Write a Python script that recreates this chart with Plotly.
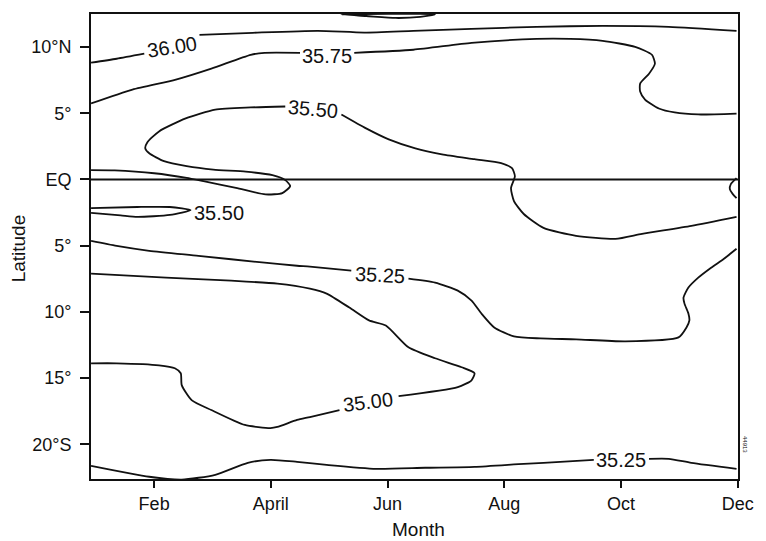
import plotly.graph_objects as go

# ---------------- data (month number, latitude; south negative) ----------------
month_ticks = [2, 4, 6, 8, 10, 12]
month_labels = ["Feb", "April", "Jun", "Aug", "Oct", "Dec"]
lat_ticks = [10, 5, 0, -5, -10, -15, -20]
lat_labels = ["10°N", "5°", "EQ", "5°", "10°", "15°", "20°S"]

# 36.00 isohaline (None = gap for label)
c3600_m = [0.919, 1.358, 1.831, None, 2.777, 3.689, 4.804, 5.60, 6.443, 7.439, 8.554, 9.686, 10.818, 11.98]
c3600_l = [8.82, 9.12, 9.50, None, 10.92, 11.08, 11.23, 11.10, 11.23, 11.38, 11.53, 11.60, 11.53, 11.23]

# 36.00 sliver touching top of the frame
c3600b_m = [5.209, 5.632, 6.139, 6.561, 6.814, 5.209]
c3600b_l = [12.47, 12.35, 12.20, 12.28, 12.47, 12.47]

# 35.75
c3575_m = [0.919, 1.628, 2.372, 2.980, 3.655, 3.892, 4.500, None,
           5.429, 6.443, 7.439, 8.554, 9.128, 9.686, 10.243, 10.530, 10.581, 10.480,
           10.328, 10.328, 10.412, 10.649, 10.919, 11.324, 11.98]
c3575_l = [5.74, 6.79, 7.54, 8.37, 9.42, 9.57, 9.57, None,
           9.57, 9.80, 10.32, 10.62, 10.62, 10.47, 10.02, 9.42, 8.74, 7.99,
           7.24, 6.64, 6.04, 5.36, 5.06, 4.91, 4.98]

# 35.50 (northern / equatorial)
c3550_m = [0.919, 1.324, 2.000, 2.557, 2.845, 3.402, 3.909, 4.196, 4.331, 4.247, 4.027,
           3.571, 3.014, 2.557, 2.169, 1.916, 1.848, 1.882, 2.084, 2.541, 3.047, 3.655, 4.247, None,
           5.209, 5.632, 6.020, 6.476, 6.932, 7.490, 7.946, 8.132, 8.182, 8.115, 8.166,
           8.334, 8.672, 9.230, 9.905, 10.361, 11.206, 11.98]
c3550_l = [0.70, 0.68, 0.47, 0.12, -0.13, -0.63, -1.13, -1.03, -0.50, -0.05, 0.32,
           0.59, 0.74, 1.00, 1.38, 1.98, 2.35, 2.80, 3.63, 4.61, 5.28, 5.44, 5.51, None,
           4.91, 3.86, 3.03, 2.35, 1.90, 1.53, 1.23, 0.85, 0.25, -0.65, -1.63,
           -2.61, -3.66, -4.26, -4.49, -4.11, -3.51, -2.83]

# 35.50 small sliver south of the equator
c3550b_m = [0.919, 1.713, 2.270, 2.625, 2.270, 1.713, 1.426, 0.919]
c3550b_l = [-2.16, -2.08, -2.08, -2.31, -2.68, -2.83, -2.72, -2.53]

# 35.50 small arc at the right edge (December)
c3550c_m = [11.98, 11.882, 11.865, 11.916, 11.98]
c3550c_l = [0.10, -0.35, -0.73, -1.11, -1.41]

# 35.25 (middle)
c3525_m = [0.919, 1.358, 1.916, 2.760, 3.892, 4.449, 4.669, 5.378, None,
           6.358, 6.814, 7.203, 7.439, 7.608, 7.828, 8.166, 8.622, 9.230, 10.074,
           10.986, 11.122, 11.172, 11.155, 11.088, 11.071, 11.155, 11.324, 11.544, 11.764, 11.98]
c3525_l = [-4.64, -5.02, -5.39, -5.77, -6.29, -6.52, -6.59, -6.89, None,
           -7.50, -7.80, -8.40, -9.15, -10.13, -11.18, -11.86, -12.01, -12.08, -12.23,
           -11.93, -11.18, -10.65, -10.13, -9.38, -8.93, -8.17, -7.42, -6.67, -5.99, -5.24]

# 35.00
c3500_m = [0.919, 2.203, 3.318, 4.111, 4.669, 4.956, 5.345, 5.682, 5.970, 6.358, 6.814,
           7.270, 7.490, 7.439, 7.203, 6.189, None,
           5.176, 4.669, 4.449, 4.111, 3.993, 3.554, 2.980, 2.642, 2.473, 2.456, 2.355,
           2.084, 1.358, 0.919]
c3500_l = [-7.12, -7.42, -7.65, -7.87, -8.25, -8.62, -9.68, -10.65, -11.03, -12.68, -13.51,
           -14.19, -14.64, -15.17, -15.69, -16.37, None,
           -17.42, -17.95, -18.17, -18.70, -18.78, -18.55, -17.42, -16.67, -15.54, -14.64, -14.26,
           -14.04, -13.89, -13.89]

# 35.25 (southern)
c3525s_m = [0.919, 1.916, 2.473, 3.047, 3.605, 3.993, 4.449, 4.956, 5.801, 6.645, 7.490,
            8.334, 8.672, 9.534, None, 10.480, 10.818, 11.206, 11.98]
c3525s_l = [-21.63, -22.46, -22.68, -22.31, -21.41, -21.18, -21.33, -21.56, -21.86, -21.78, -21.71,
            -21.48, -21.41, -21.18, None, -21.11, -21.11, -21.41, -21.86]

# contour labels: text, month, latitude, angle
label_text = ["36.00", "35.75", "35.50", "35.50", "35.25", "35.00", "35.25"]
label_m = [2.304, 4.956, 4.720, 3.115, 5.868, 5.666, 10.007]
label_l = [10.02, 9.35, 5.36, -2.53, -7.20, -16.82, -21.18]
label_ang = [-9, 0, 5, 0, 3, -7, 0]

x_range = [0.918, 12.005]
y_range = [-22.63, 12.5]

# ---------------- figure ----------------
FONT = "Liberation Sans, Arial, Helvetica, sans-serif"
INK = "#111111"
fig = go.Figure()


def add_line(ms, ls, width=1.8):
    seg_m, seg_l = [], []
    segs = []
    for m, l in zip(ms, ls):
        if m is None:
            segs.append((seg_m, seg_l))
            seg_m, seg_l = [], []
        else:
            seg_m.append(m)
            seg_l.append(l)
    segs.append((seg_m, seg_l))
    for sm, sl in segs:
        fig.add_trace(go.Scatter(x=sm, y=sl, mode="lines",
                                 line=dict(color=INK, width=width, shape="spline", smoothing=0.6),
                                 hoverinfo="skip", showlegend=False))


for ms, ls in [(c3600_m, c3600_l), (c3600b_m, c3600b_l), (c3575_m, c3575_l),
               (c3550_m, c3550_l), (c3550b_m, c3550b_l), (c3550c_m, c3550c_l),
               (c3525_m, c3525_l), (c3500_m, c3500_l), (c3525s_m, c3525s_l)]:
    add_line(ms, ls)

# equator reference line
fig.add_trace(go.Scatter(x=x_range, y=[0, 0], mode="lines",
                         line=dict(color=INK, width=2),
                         hoverinfo="skip", showlegend=False))

for t, m, l, a in zip(label_text, label_m, label_l, label_ang):
    fig.add_annotation(x=m, y=l, xref="x", yref="y", text=t, showarrow=False,
                       textangle=a, font=dict(family=FONT, size=20, color=INK),
                       xanchor="center", yanchor="middle")

# axis titles
fig.add_annotation(x=0.506, y=-0.109, xref="paper", yref="paper", text="Month",
                   showarrow=False, font=dict(family=FONT, size=19, color=INK),
                   xanchor="center", yanchor="middle")
fig.add_annotation(x=-0.112, y=0.495, xref="paper", yref="paper", text="Latitude",
                   showarrow=False, textangle=-90, font=dict(family=FONT, size=19, color=INK),
                   xanchor="center", yanchor="middle")
# small figure id at the right margin
fig.add_annotation(x=1.011, y=0.075, xref="paper", yref="paper", text="44913",
                   showarrow=False, textangle=90, font=dict(family=FONT, size=6, color=INK),
                   xanchor="center", yanchor="middle")

fig.update_xaxes(range=x_range, tickmode="array", tickvals=month_ticks, ticktext=month_labels,
                 showgrid=False, zeroline=False, showline=True, linecolor=INK, linewidth=2,
                 mirror=True, ticks="outside", ticklen=7, tickwidth=1.5, tickcolor=INK,
                 tickfont=dict(family=FONT, size=18, color=INK))
fig.update_yaxes(range=y_range, tickmode="array", tickvals=lat_ticks, ticktext=lat_labels,
                 showgrid=False, zeroline=False, showline=True, linecolor=INK, linewidth=2,
                 mirror=True, ticks="outside", ticklen=9, tickwidth=1.5, tickcolor=INK,
                 ticklabelstandoff=5,
                 tickfont=dict(family=FONT, size=18, color=INK))

fig.update_layout(width=766, height=541, margin=dict(l=91, r=20, t=12, b=62),
                  paper_bgcolor="white", plot_bgcolor="white")

fig.write_html("out.html")
